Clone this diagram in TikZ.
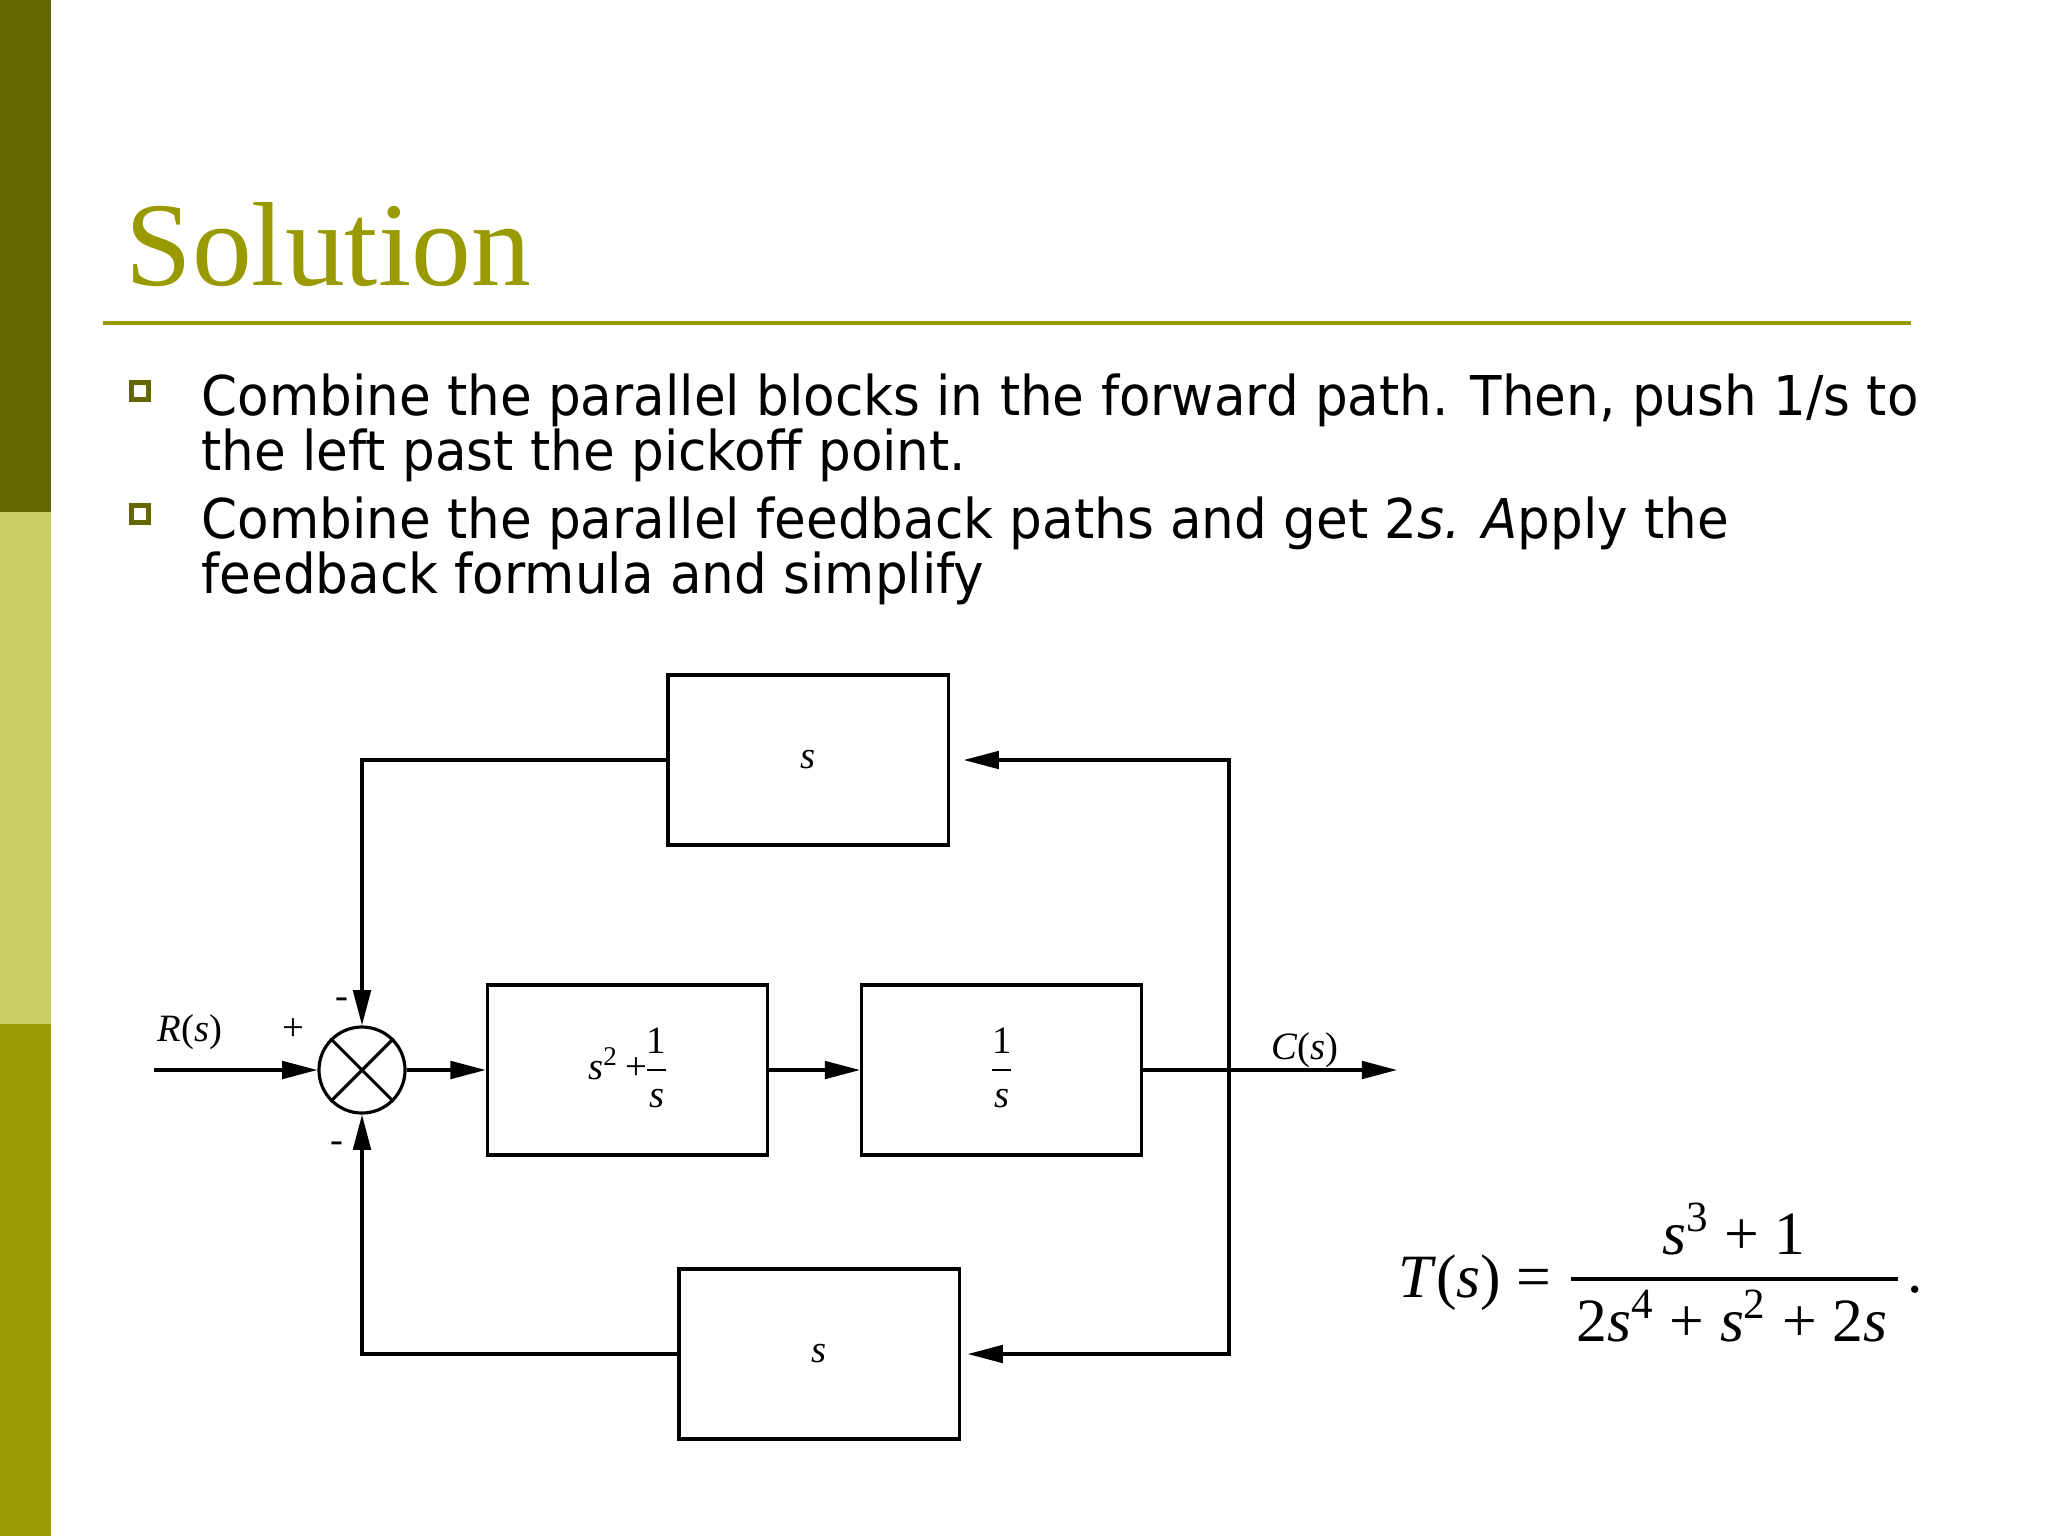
\documentclass[tikz,border=0pt]{standalone}
\usepackage{fontspec}
\setmainfont{Liberation Serif}
\newfontfamily\slidefont[FakeStretch=0.94]{DejaVu Sans}
\usetikzlibrary{arrows.meta,positioning}
\definecolor{olivedark}{HTML}{666600}
\definecolor{olivelight}{HTML}{CCCC66}
\definecolor{olivemid}{HTML}{999900}
% small stacked fraction for the blocks
\newcommand{\vfrac}[2]{{\renewcommand{\arraystretch}{1.15}\begin{tabular}[c]{@{}c@{}}#1\\\hline #2\end{tabular}}}
\begin{document}
\begin{tikzpicture}[x=0.01cm, y=-0.01cm, line width=0.9pt, node distance=0.8cm,
	>={Triangle[length=10pt,width=5pt]},
	block/.style={rectangle,draw,line width=0.9pt,minimum width=2.8cm,minimum height=1.7cm,font=\fontsize{11}{13}\selectfont},
	lbl/.style={inner sep=0pt,font=\fontsize{11}{13}\selectfont},
	bullettext/.style={anchor=base west,inner sep=0pt,font=\slidefont\fontsize{15.6}{18}\selectfont},
	bulletbox/.style={rectangle,draw=olivedark,line width=1.6pt,minimum size=0.17cm,inner sep=0pt}]
	% Slide frame
	\useasboundingbox (0,0) rectangle (2048,1536);
	\fill[white] (0,0) rectangle (2048,1536);
	\fill[olivedark] (0,0) rectangle (51,512);
	\fill[olivelight] (0,512) rectangle (51,1024);
	\fill[olivemid] (0,1024) rectangle (51,1536);
	\node [anchor=base west,inner sep=0pt,text=olivemid,font=\fontsize{34}{40}\selectfont] (title) at (124,285) {Solution};
	\draw [olivemid,line width=1.1pt] (103,323) -- (1911,323);
	
	% Bullets
	\node [bulletbox] (bul1) at (140,391) {};
	\node [bulletbox] (bul2) at (140,514) {};
	\node [bullettext] (line1) at (200,415) {Combine the parallel blocks in the forward path. Then, push 1/s to};
	\node [bullettext] (line2) at (200,470) {the left past the pickoff point.};
	\node [bullettext] (line3) at (200,538) {Combine the parallel feedback paths and get 2\textit{s. A}pply the};
	\node [bullettext] (line4) at (200,593) {feedback formula and simplify};
	
	% Place nodes
	\node [circle,draw,minimum size=0.86cm,inner sep=0pt] (sum) at (362,1070) {};
	\draw (sum.north west) -- (sum.south east) (sum.north east) -- (sum.south west);
	\node [block,right=0.79cm of sum] (fwd1) {\textit{s}\textsuperscript{2}\,+\vfrac{1}{\textit{s}}};
	\node [block,right=0.91cm of fwd1] (fwd2) {\vfrac{1}{\textit{s}}};
	\node [block] (fbtop) at (808,760) {\textit{s}};
	\node [block] (fbbot) at (819,1354) {\textit{s}};
	\coordinate (rin) at (154,1070);
	\coordinate (pick) at (1229,1070);
	\coordinate (cout) at (1397,1070);
	
	% Connectors
	\draw [->] (rin) -- (sum.west);
	\draw [->] (sum.east) -- (fwd1.west);
	\draw [->] (fwd1.east) -- (fwd2.west);
	\draw [->] (fwd2.east) -- (cout);
	\draw [->,shorten >=4pt] (pick) |- (fbtop.east);
	\draw [->,shorten >=2pt] (pick) |- (fbbot.east);
	\draw [->] (fbtop.west) -| (sum.north);
	\draw [->] (fbbot.west) -| (sum.south);
	
	% Signals and signs
	\node [lbl] (rlbl) at (190,1032) {\textit{R}(\textit{s})};
	\node [lbl] (clbl) at (1305,1050) {\textit{C}(\textit{s})};
	\node [lbl] (plus) at (293,1030) {+};
	\node [lbl] (mtop) at (342,1003) {-};
	\node [lbl] (mbot) at (337,1147) {-};
	
	% Transfer function
	\node [anchor=base west,inner sep=0pt,font=\fontsize{17.5}{20}\selectfont] (tlhs) at (1397,1297) {\textit{T}(\textit{s}) =};
	\node [anchor=base,inner sep=0pt,font=\fontsize{17.5}{20}\selectfont] (tnum) at (1734,1254) {\textit{s}\textsuperscript{3} + 1};
	\node [anchor=base,inner sep=0pt,font=\fontsize{17.5}{20}\selectfont] (tden) at (1732,1341) {2\textit{s}\textsuperscript{4} + \textit{s}\textsuperscript{2} + 2\textit{s}};
	\draw [line width=1pt] (1571,1279) -- (1898,1279);
	\node [anchor=base west,inner sep=0pt,font=\fontsize{17.5}{20}\selectfont] (tdot) at (1906,1292) {.};
\end{tikzpicture}
\end{document}
